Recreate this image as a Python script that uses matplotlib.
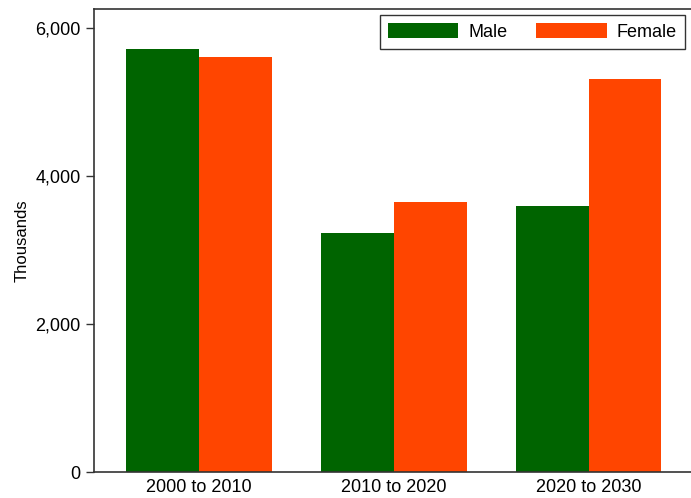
import matplotlib
matplotlib.use("Agg")
import matplotlib.pyplot as plt
import numpy as np

plt.rcParams['font.family'] = ['Liberation Sans', 'DejaVu Sans']

categories = ["2000 to 2010", "2010 to 2020", "2020 to 2030"]
male = [5710, 3230, 3595]
female = [5605, 3645, 5310]
yticks = [0, 2000, 4000, 6000]
ytick_labels = ["0", "2,000", "4,000", "6,000"]

fig = plt.figure(figsize=(6.91, 4.98), dpi=100)
ax = fig.add_axes([94/691, 26/498, 1 - 94/691 + 0.004, (472-9)/498])

x = np.arange(len(categories))
w = 0.374
ax.bar(x - w/2, male, width=w, color="#006400", label="Male")
ax.bar(x + w/2, female, width=w, color="#FF4500", label="Female")

ax.set_xlim(-0.538, 2.54)
ax.set_ylim(0, 6257)
ax.set_yticks(yticks)
ax.set_yticklabels(ytick_labels)
ax.set_xticks(x)
ax.set_xticklabels(categories)
ax.tick_params(axis='y', length=6, width=1, labelsize=13, color="#333333")
ax.tick_params(axis='x', length=0, labelsize=13, pad=5)
ax.set_ylabel("Thousands", fontsize=12, labelpad=4)
for s in ax.spines.values():
    s.set_color("#333333")
    s.set_linewidth(1.2)

leg = ax.legend(ncol=2, loc="upper right", bbox_to_anchor=(0.985, 0.987),
                borderaxespad=0,
                fontsize=13, handlelength=3.9, handleheight=0.9,
                columnspacing=1.6, handletextpad=0.55, borderpad=0.45,
                fancybox=False, framealpha=1, edgecolor="#333333")
leg.get_frame().set_linewidth(1.0)

fig.savefig("out.png", dpi=100)
